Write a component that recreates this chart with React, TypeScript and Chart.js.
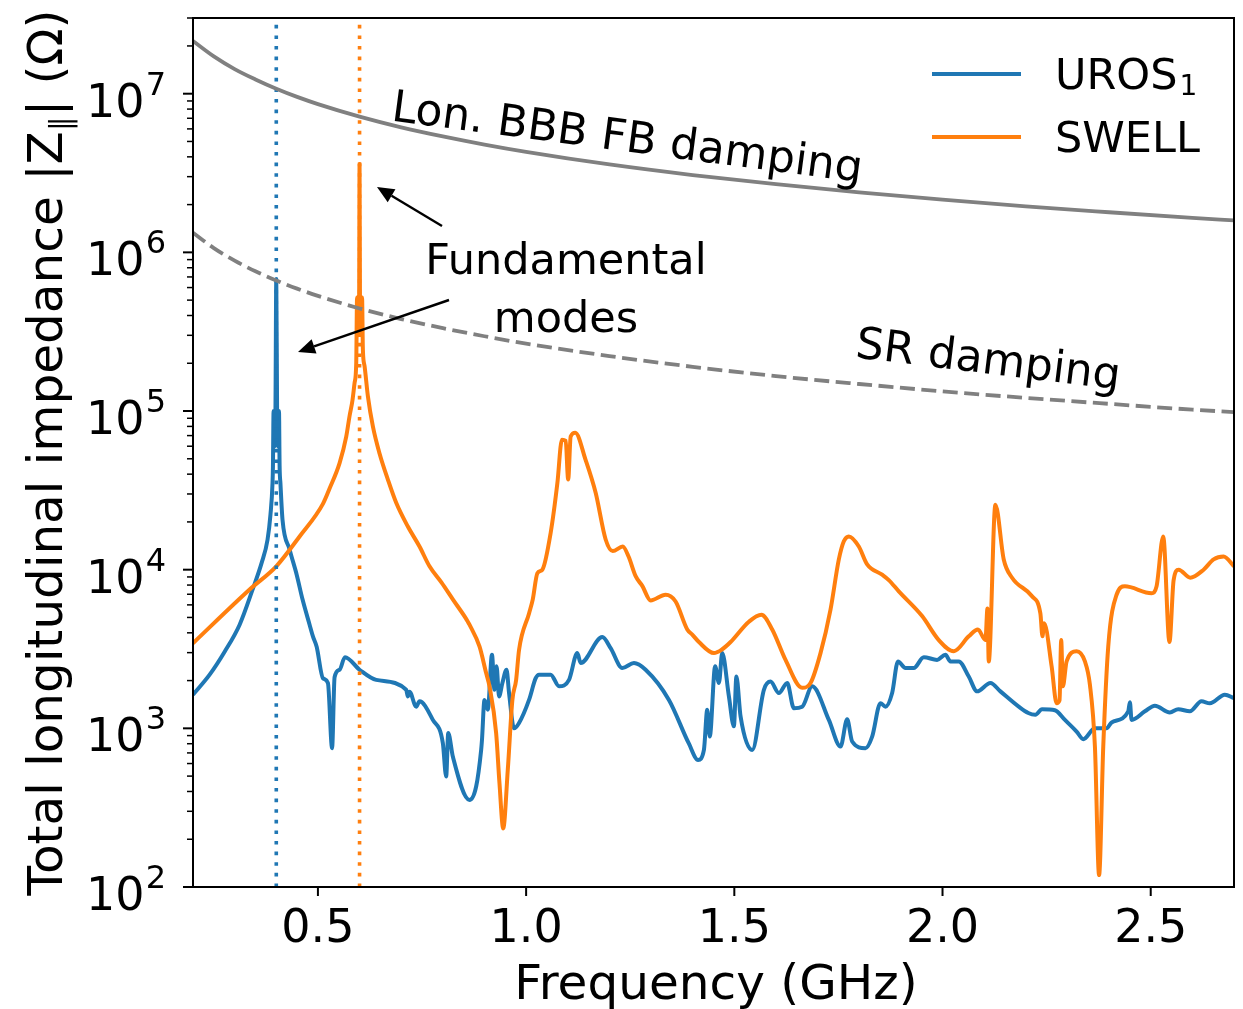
import React, { useEffect, useRef } from "react";
import { Chart, registerables } from "chart.js";
Chart.register(...registerables);

const W = 1243;
const H = 1009;
const FONT = '"DejaVu Sans", "Liberation Sans", sans-serif';

const BLUE = "#1f77b4";
const ORANGE = "#ff7f0e";
const GRAY = "#808080";

// UROS1 (blue)
const urosFreq = [0.2, 0.24, 0.276, 0.312, 0.343, 0.365, 0.379, 0.386, 0.391, 0.392, 0.3935, 0.3955, 0.398, 0.4, 0.402, 0.4045, 0.4065, 0.408, 0.41, 0.415, 0.432, 0.449, 0.463, 0.48, 0.488, 0.497, 0.512, 0.524, 0.534, 0.54, 0.552, 0.565, 0.6, 0.64, 0.712, 0.716, 0.72, 0.736, 0.744, 0.776, 0.8, 0.808, 0.813, 0.824, 0.864, 0.88, 0.892, 0.894, 0.9, 0.908, 0.918, 0.924, 0.929, 0.935, 0.943, 0.953, 0.959, 0.971, 0.983, 1.007, 1.023, 1.031, 1.059, 1.079, 1.103, 1.123, 1.131, 1.183, 1.203, 1.231, 1.259, 1.287, 1.343, 1.391, 1.413, 1.427, 1.435, 1.441, 1.454, 1.463, 1.471, 1.487, 1.499, 1.505, 1.515, 1.543, 1.571, 1.587, 1.607, 1.627, 1.643, 1.663, 1.687, 1.727, 1.755, 1.771, 1.783, 1.815, 1.831, 1.851, 1.863, 1.879, 1.893, 1.911, 1.931, 1.955, 1.987, 2.007, 2.019, 2.039, 2.063, 2.083, 2.115, 2.139, 2.183, 2.206, 2.223, 2.239, 2.27, 2.294, 2.322, 2.338, 2.366, 2.394, 2.406, 2.446, 2.45, 2.454, 2.486, 2.51, 2.546, 2.566, 2.594, 2.622, 2.642, 2.678, 2.7];
const urosZ = [1630, 2180, 3040, 4500, 7480, 11070, 15450, 22200, 35400, 45000, 100000, 60000, 100000, 680000, 100000, 60000, 100000, 45000, 35000, 20600, 13400, 9300, 6500, 4500, 3800, 3270, 2070, 1930, 750, 2100, 2340, 2810, 2340, 2020, 1750, 1590, 1700, 1370, 1480, 1130, 807, 497, 933, 664, 354, 430, 731, 845, 1510, 1310, 2910, 1750, 2460, 1590, 1930, 2340, 1670, 1000, 1080, 1510, 2070, 2180, 2180, 1840, 2020, 2980, 2580, 3760, 3200, 2400, 2580, 2340, 1510, 800, 632, 731, 1310, 887, 2460, 1930, 2980, 1590, 1030, 2120, 1190, 731, 1750, 1970, 1670, 1930, 1340, 1370, 1840, 1130, 767, 1140, 826, 750, 887, 1440, 1370, 1670, 2640, 2400, 2400, 2810, 2700, 2910, 2640, 2640, 2120, 1710, 1930, 1710, 1370, 1250, 1220, 1320, 1300, 1130, 955, 855, 1000, 1000, 1090, 1280, 1460, 1130, 1280, 1390, 1260, 1320, 1280, 1480, 1440, 1630, 1550];

// SWELL (orange)
const swellFreq = [0.2, 0.336, 0.4, 0.456, 0.512, 0.528, 0.552, 0.568, 0.576, 0.583, 0.588, 0.592, 0.594, 0.597, 0.599, 0.6, 0.601, 0.603, 0.606, 0.608, 0.612, 0.62, 0.632, 0.648, 0.668, 0.688, 0.716, 0.744, 0.768, 0.797, 0.824, 0.856, 0.86, 0.864, 0.888, 0.904, 0.912, 0.928, 0.936, 0.945, 0.956, 0.967, 0.976, 0.983, 1.007, 1.016, 1.027, 1.039, 1.059, 1.075, 1.086, 1.095, 1.101, 1.107, 1.118, 1.143, 1.167, 1.191, 1.208, 1.232, 1.246, 1.263, 1.279, 1.299, 1.335, 1.359, 1.387, 1.399, 1.415, 1.451, 1.471, 1.491, 1.535, 1.565, 1.591, 1.623, 1.663, 1.683, 1.707, 1.731, 1.751, 1.763, 1.775, 1.799, 1.819, 1.855, 1.871, 1.895, 1.951, 1.991, 2.027, 2.063, 2.085, 2.103, 2.108, 2.111, 2.127, 2.147, 2.167, 2.215, 2.235, 2.24, 2.244, 2.262, 2.274, 2.281, 2.285, 2.289, 2.298, 2.322, 2.342, 2.354, 2.366, 2.376, 2.386, 2.398, 2.418, 2.438, 2.502, 2.514, 2.53, 2.545, 2.555, 2.567, 2.595, 2.627, 2.651, 2.675, 2.7];
const swellZ = [3440, 7500, 10500, 16200, 26000, 32500, 47000, 69000, 93000, 117000, 150000, 200000, 520000, 300000, 500000, 3600000, 500000, 300000, 520000, 244000, 192000, 124000, 80000, 54000, 37000, 26400, 18700, 14000, 10500, 8280, 6500, 4900, 4700, 4500, 3280, 2230, 1840, 933, 451, 234, 550, 1510, 2020, 3120, 5300, 6500, 9500, 10000, 17100, 35000, 66000, 65000, 37000, 69000, 73000, 49000, 30500, 15500, 13100, 14000, 12100, 9100, 7900, 6400, 6950, 6300, 4200, 3900, 3500, 2980, 3150, 3500, 4700, 5200, 4200, 2700, 1800, 1930, 2980, 5600, 11600, 15100, 16200, 14000, 10800, 9300, 8600, 7300, 5100, 3600, 3060, 3800, 4200, 3600, 5700, 2640, 25700, 11600, 8900, 6800, 5300, 3800, 4600, 2460, 1440, 1500, 3600, 1840, 2640, 3060, 2640, 1880, 767, 119, 767, 3280, 6950, 7850, 7100, 7850, 16200, 3500, 8600, 10000, 8900, 10000, 11600, 12100, 10500];

// Damping thresholds (gray)
const dampFreq = [0.2, 0.25, 0.3, 0.35, 0.4, 0.45, 0.5, 0.6, 0.7, 0.8, 0.9, 1.0, 1.2, 1.4, 1.6, 1.8, 2.0, 2.2, 2.4, 2.6, 2.7];
const fbZ = [2.15e7, 1.72e7, 1.43e7, 1.23e7, 1.075e7, 9.55e6, 8.6e6, 7.17e6, 6.14e6, 5.38e6, 4.78e6, 4.3e6, 3.58e6, 3.07e6, 2.69e6, 2.39e6, 2.15e6, 1.95e6, 1.79e6, 1.65e6, 1.59e6];
const srZ = [1.33e6, 1.064e6, 8.87e5, 7.6e5, 6.65e5, 5.91e5, 5.32e5, 4.43e5, 3.8e5, 3.33e5, 2.96e5, 2.66e5, 2.22e5, 1.9e5, 1.66e5, 1.48e5, 1.33e5, 1.21e5, 1.11e5, 1.02e5, 9.85e4];

// Fundamental mode frequencies (vertical dotted lines)
const urosFundamental = 0.4;
const swellFundamental = 0.6;

const xMin = 0.2;
const xMax = 2.7;
const yMin = 1e2;
const yMax = 3e7;
const xTickValues = [0.5, 1.0, 1.5, 2.0, 2.5];
const xTickLabels = ["0.5", "1.0", "1.5", "2.0", "2.5"];
const yDecades = [2, 3, 4, 5, 6, 7];

const seriesLabels = ["UROS", "SWELL"];

function pts(f: number[], v: number[]) {
  return f.map((x, i) => ({ x, y: v[i] }));
}

function arrow(ctx: CanvasRenderingContext2D, x1: number, y1: number, x2: number, y2: number) {
  const ang = Math.atan2(y2 - y1, x2 - x1);
  const hl = 17;
  const hw = 7.5;
  const bx = x2 - hl * Math.cos(ang);
  const by = y2 - hl * Math.sin(ang);
  ctx.beginPath();
  ctx.moveTo(x1, y1);
  ctx.lineTo(bx, by);
  ctx.lineWidth = 2.4;
  ctx.strokeStyle = "#000";
  ctx.stroke();
  ctx.beginPath();
  ctx.moveTo(x2, y2);
  ctx.lineTo(bx + hw * Math.sin(ang), by - hw * Math.cos(ang));
  ctx.lineTo(bx - hw * Math.sin(ang), by + hw * Math.cos(ang));
  ctx.closePath();
  ctx.fillStyle = "#000";
  ctx.fill();
}

const mplPlugin = {
  id: "mplAxes",
  afterDraw(chart: any) {
    const ctx: CanvasRenderingContext2D = chart.ctx;
    const xs = chart.scales.x;
    const ys = chart.scales.y;
    const { left, right, top, bottom } = chart.chartArea;
    ctx.save();
    ctx.fillStyle = "#000";
    ctx.strokeStyle = "#000";

    // spines
    ctx.lineWidth = 2;
    ctx.strokeRect(left, top, right - left, bottom - top);

    // x ticks
    ctx.font = `46px ${FONT}`;
    ctx.textAlign = "center";
    ctx.textBaseline = "alphabetic";
    xTickValues.forEach((v, i) => {
      const px = xs.getPixelForValue(v);
      ctx.lineWidth = 2;
      ctx.beginPath();
      ctx.moveTo(px, bottom);
      ctx.lineTo(px, bottom + 9);
      ctx.stroke();
      ctx.fillText(xTickLabels[i], px, 942);
    });

    // y major + minor ticks
    yDecades.forEach((e) => {
      const py = ys.getPixelForValue(Math.pow(10, e));
      ctx.lineWidth = 2;
      ctx.beginPath();
      ctx.moveTo(left - 10, py);
      ctx.lineTo(left, py);
      ctx.stroke();
      for (let m = 2; m <= 9; m++) {
        const v = m * Math.pow(10, e);
        if (v > yMax) break;
        const pm = ys.getPixelForValue(v);
        ctx.lineWidth = 1.5;
        ctx.beginPath();
        ctx.moveTo(left - 6, pm);
        ctx.lineTo(left, pm);
        ctx.stroke();
      }
      ctx.textAlign = "left";
      ctx.font = `46px ${FONT}`;
      const w1 = ctx.measureText("10").width;
      ctx.font = `32px ${FONT}`;
      const w2 = ctx.measureText(String(e)).width;
      const rightEdge = 166;
      const x0 = rightEdge - w1 - w2 - 1;
      ctx.font = `46px ${FONT}`;
      ctx.fillText("10", x0, py + 23);
      ctx.font = `32px ${FONT}`;
      ctx.fillText(String(e), x0 + w1 + 1, py + 1);
    });

    // x axis title
    ctx.font = `48.5px ${FONT}`;
    ctx.textAlign = "center";
    ctx.fillText("Frequency (GHz)", (left + right) / 2 + 2.5, 999);

    // y axis title (rotated)
    ctx.save();
    ctx.translate(62, (top + bottom) / 2);
    ctx.rotate(-Math.PI / 2);
    ctx.textAlign = "left";
    const p1 = "Total longitudinal impedance |Z";
    const p2 = "\u2225";
    const p3 = "| (\u03A9)";
    ctx.font = `48.5px ${FONT}`;
    const a1 = ctx.measureText(p1).width;
    const a3 = ctx.measureText(p3).width;
    ctx.font = `30px ${FONT}`;
    const a2 = ctx.measureText(p2).width;
    const tot = a1 + a2 + a3;
    let cx = -tot / 2;
    ctx.font = `48.5px ${FONT}`;
    ctx.fillText(p1, cx, 0);
    cx += a1;
    ctx.font = `30px ${FONT}`;
    ctx.fillText(p2, cx, 9);
    cx += a2;
    ctx.font = `48.5px ${FONT}`;
    ctx.fillText(p3, cx, 0);
    ctx.restore();

    // legend
    ctx.lineWidth = 4;
    ctx.lineCap = "butt";
    ctx.strokeStyle = BLUE;
    ctx.beginPath();
    ctx.moveTo(932, 74);
    ctx.lineTo(1021, 74);
    ctx.stroke();
    ctx.strokeStyle = ORANGE;
    ctx.beginPath();
    ctx.moveTo(932, 137);
    ctx.lineTo(1021, 137);
    ctx.stroke();
    ctx.fillStyle = "#000";
    ctx.textAlign = "left";
    ctx.font = `43px ${FONT}`;
    ctx.fillText(seriesLabels[0], 1055, 89);
    const wu = ctx.measureText(seriesLabels[0]).width;
    ctx.font = `28px ${FONT}`;
    ctx.fillText("1", 1055 + wu + 2, 95);
    ctx.font = `43px ${FONT}`;
    ctx.fillText(seriesLabels[1], 1055, 152);

    // annotations
    ctx.font = `43px ${FONT}`;
    ctx.textAlign = "center";
    ctx.fillText("Fundamental", 566, 274);
    ctx.fillText("modes", 566, 332);

    ctx.font = `44px ${FONT}`;
    ctx.save();
    ctx.translate(627, 140);
    ctx.rotate((7.5 * Math.PI) / 180);
    ctx.textBaseline = "middle";
    ctx.fillText("Lon. BBB FB damping", 0, 0);
    ctx.restore();

    ctx.save();
    ctx.translate(988, 362);
    ctx.rotate((7 * Math.PI) / 180);
    ctx.textBaseline = "middle";
    ctx.fillText("SR damping", 0, 0);
    ctx.restore();

    arrow(ctx, 442, 226, 377, 187);
    arrow(ctx, 449, 300, 298, 352);

    ctx.restore();
  },
};

export default function App() {
  const ref = useRef<HTMLCanvasElement | null>(null);
  useEffect(() => {
    if (!ref.current) return;
    const chart = new Chart(ref.current, {
      type: "line",
      data: {
        datasets: [
          {
            label: "Lon. BBB FB damping",
            data: pts(dampFreq, fbZ),
            borderColor: GRAY,
            borderWidth: 3.8,
            cubicInterpolationMode: "monotone",
          },
          {
            label: "SR damping",
            data: pts(dampFreq, srZ),
            borderColor: GRAY,
            borderWidth: 3.8,
            borderDash: [15, 6.5],
            cubicInterpolationMode: "monotone",
          },
          {
            label: "UROS fundamental",
            data: [{ x: urosFundamental, y: yMin }, { x: urosFundamental, y: yMax }],
            borderColor: BLUE,
            borderWidth: 3.6,
            borderDash: [3.6, 7],
          },
          {
            label: "SWELL fundamental",
            data: [{ x: swellFundamental, y: yMin }, { x: swellFundamental, y: yMax }],
            borderColor: ORANGE,
            borderWidth: 3.6,
            borderDash: [3.6, 7],
          },
          {
            label: "SWELL",
            data: pts(swellFreq, swellZ),
            borderColor: ORANGE,
            borderWidth: 4,
            cubicInterpolationMode: "monotone",
          },
          {
            label: "UROS1",
            data: pts(urosFreq, urosZ),
            borderColor: BLUE,
            borderWidth: 4,
            cubicInterpolationMode: "monotone",
          },
        ],
      },
      options: {
        animation: false,
        responsive: false,
        devicePixelRatio: 1,
        layout: { padding: { left: 193, right: 9, top: 18, bottom: 122 } },
        plugins: { legend: { display: false }, tooltip: { enabled: false } },
        elements: { point: { radius: 0 }, line: { tension: 0, borderJoinStyle: "round" } },
        scales: {
          x: { type: "linear", min: xMin, max: xMax, display: false },
          y: { type: "logarithmic", min: yMin, max: yMax, display: false },
        },
      },
      plugins: [mplPlugin],
    } as any);
    return () => chart.destroy();
  }, []);
  return (
    <div style={{ position: "fixed", left: 0, top: 0, width: W, height: H, background: "#fff" }}>
      <canvas ref={ref} width={W} height={H} style={{ width: W, height: H, display: "block" }} />
    </div>
  );
}
